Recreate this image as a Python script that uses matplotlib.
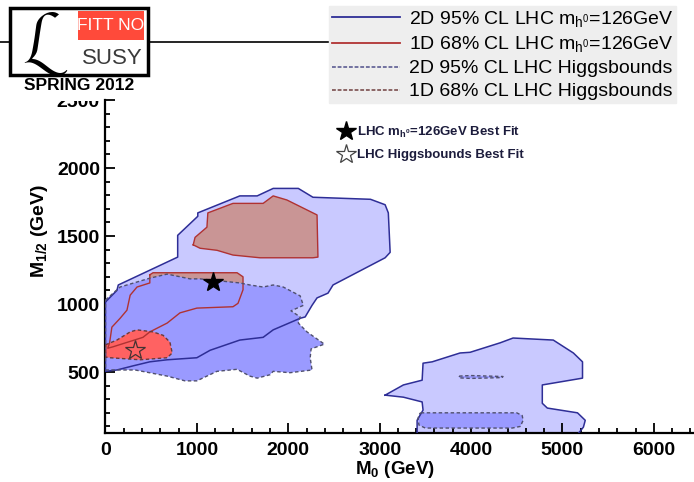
import numpy as np
import matplotlib
matplotlib.use('Agg')
import matplotlib.pyplot as plt
from matplotlib.patches import Rectangle
from matplotlib.lines import Line2D
from matplotlib.transforms import Bbox, TransformedBbox

plt.rcParams['font.family'] = ['Liberation Sans', 'DejaVu Sans']
plt.rcParams['mathtext.fontset'] = 'custom'
plt.rcParams['mathtext.rm'] = 'Liberation Sans'
plt.rcParams['mathtext.bf'] = 'Liberation Sans:bold'
plt.rcParams['mathtext.it'] = 'Liberation Sans:italic'

# contour vertices (M0, M1/2 in GeV)
# 2D 95% CL, LHC mh=126GeV : main region
m0_2d_mh = [0, 125, 140, 790, 790, 1010, 1010, 1470, 1660, 1835, 2110, 2270, 2900, 3060, 3095, 3115,
            3060, 2490, 2435, 2315, 2260, 2185, 2130, 1835, 1725, 1470, 1145, 1000, 675, 485, 300, 125, 0]
m12_2d_mh = [1015, 1100, 1140, 1345, 1505, 1645, 1670, 1795, 1795, 1850, 1850, 1785, 1770, 1730, 1670, 1380,
             1340, 1140, 1080, 1045, 990, 905, 895, 810, 755, 735, 660, 605, 590, 575, 545, 515, 505]
# 2D 95% CL, LHC mh=126GeV : high M0 island
m0_2d_mh_b = [3060, 3260, 3465, 3475, 3575, 3880, 3990, 4320, 4460, 4900, 5120, 5220, 5220, 4780, 4780,
              4835, 5165, 5250, 5230, 5165, 3410, 3410, 3475, 3465, 3260]
m12_2d_mh_b = [330, 405, 440, 565, 575, 640, 645, 715, 750, 735, 640, 575, 455, 405, 270,
               235, 200, 145, 95, 40, 40, 145, 220, 280, 315]

# 1D 68% CL, LHC mh=126GeV
m0_1d_mh_a = [960, 980, 1110, 1120, 1395, 1725, 1835, 1985, 2315, 2325, 2270, 1690, 1395, 1220, 1035]
m12_1d_mh_a = [1435, 1490, 1565, 1670, 1740, 1740, 1795, 1765, 1655, 1345, 1340, 1340, 1360, 1395, 1410]
m0_1d_mh_b = [485, 520, 1440, 1505, 1505, 1450, 1395, 1000, 815, 675, 485, 410, 80, 25, 45, 70, 160, 235, 270, 345, 485]
m12_1d_mh_b = [1215, 1230, 1230, 1200, 1105, 1005, 980, 970, 935, 860, 795, 755, 685, 675, 715, 830, 895, 955, 1065, 1125, 1155]

# 2D 95% CL, LHC Higgsbounds
m0_2d_hb = [0, 160, 485, 675, 925, 1035, 1470, 1580, 1725, 1835, 1945, 2130, 2165, 2030, 2130, 2110, 2205,
            2395, 2250, 2240, 2260, 2020, 1835, 1800, 1660, 1580, 1440, 1220, 1000, 870, 675, 325, 50, 0]
m12_2d_hb = [1030, 1125, 1190, 1220, 1185, 1185, 1155, 1140, 1125, 1140, 1125, 1060, 990, 950, 905, 860, 795,
             705, 670, 605, 515, 495, 505, 480, 455, 470, 520, 505, 435, 435, 470, 515, 515, 515]
m0_2d_hb_b = [3450, 4500, 4560, 4570, 4540, 4450, 3500, 3430, 3420, 3440]
m12_2d_hb_b = [200, 200, 180, 145, 100, 88, 88, 110, 160, 195]
m0_2d_hb_c = [3870, 4000, 4350, 4340, 4000, 3870]
m12_2d_hb_c = [470, 474, 467, 459, 453, 457]

# 1D 68% CL, LHC Higgsbounds
m0_1d_hb = [0, 125, 270, 345, 520, 630, 705, 730, 675, 380, 50, 0]
m12_1d_hb = [700, 735, 795, 810, 795, 770, 720, 640, 605, 590, 605, 610]

# best fit points
bf_mh = (1180, 1160)
bf_hb = (320, 660)

c_light = '#c9c9ff'
c_med = '#9a9aff'
c_brown = '#c99595'
c_red = '#ff6262'
c_bline = '#2e2e96'
c_rline = '#b03232'

fig = plt.figure(figsize=(6.94, 4.82), dpi=100)
ax = fig.add_axes([0.152, 0.1012, 0.848, 0.6913])

for xs, ys in [(m0_2d_mh, m12_2d_mh), (m0_2d_mh_b, m12_2d_mh_b)]:
    ax.fill(xs, ys, color=c_light, lw=0, zorder=1)
for xs, ys in [(m0_1d_mh_a, m12_1d_mh_a), (m0_1d_mh_b, m12_1d_mh_b)]:
    ax.fill(xs, ys, color=c_brown, lw=0, zorder=2)
for xs, ys in [(m0_2d_hb, m12_2d_hb), (m0_2d_hb_b, m12_2d_hb_b), (m0_2d_hb_c, m12_2d_hb_c)]:
    ax.fill(xs, ys, color=c_med, lw=0, zorder=3)
ax.fill(m0_1d_hb, m12_1d_hb, color=c_red, lw=0, zorder=4)

# outlines on top
for xs, ys in [(m0_2d_mh, m12_2d_mh), (m0_2d_mh_b, m12_2d_mh_b)]:
    ax.plot(xs + xs[:1], ys + ys[:1], color=c_bline, lw=1.1, zorder=6)
for xs, ys in [(m0_1d_mh_a, m12_1d_mh_a), (m0_1d_mh_b, m12_1d_mh_b)]:
    ax.plot(xs + xs[:1], ys + ys[:1], color=c_rline, lw=1.0, zorder=6)
for xs, ys in [(m0_2d_hb, m12_2d_hb), (m0_2d_hb_b, m12_2d_hb_b), (m0_2d_hb_c, m12_2d_hb_c)]:
    ax.plot(xs + xs[:1], ys + ys[:1], color='#50506e', lw=1.0, ls=(0, (2.5, 1.8)), zorder=7)
ax.plot(m0_1d_hb + m0_1d_hb[:1], m12_1d_hb + m12_1d_hb[:1], color='#6a3a3a', lw=1.0, ls=(0, (2.5, 1.8)), zorder=7)

ax.plot(*bf_mh, marker='*', ms=15, color='black', mec='black', zorder=8)
ax.plot(*bf_hb, marker='*', ms=15, mfc='none', mec='#443333', mew=0.9, zorder=8)

ax.set_xlim(0, 6440)
ax.set_ylim(50, 2500)
ax.set_xticks(np.arange(0, 6001, 1000))
ax.set_xticks(np.arange(0, 6441, 200), minor=True)
ax.set_yticks(np.arange(500, 2501, 500))
ax.set_yticks(np.arange(100, 2501, 100), minor=True)
ax.spines['top'].set_visible(False)
ax.spines['right'].set_visible(False)
ax.spines['left'].set_linewidth(1.6)
ax.spines['bottom'].set_linewidth(1.6)
ax.tick_params(which='both', direction='in', width=1.3)
ax.tick_params(which='major', length=7)
ax.tick_params(which='minor', length=3.5)
ax.tick_params(axis='x', pad=6)
ax.tick_params(axis='y', pad=4)
for lab in ax.get_xticklabels() + ax.get_yticklabels():
    lab.set_fontsize(14)
    lab.set_fontweight('bold')

# the 2500 label is cut off at its top by the header
top_lab = ax.yaxis.get_major_ticks()[-1].label1
top_lab.set_clip_box(TransformedBbox(Bbox([[0, 0], [1, 1 - 101 / 482]]), fig.transFigure))
top_lab.set_clip_on(True)

fig.text(395 / 694, 1 - 470 / 482, r'M$_\mathbf{0}$ (GeV)', fontsize=13.5, fontweight='bold', ha='center', va='center')
fig.text(39 / 694, 1 - 231 / 482, r'M$_\mathbf{1/2}$ (GeV)', fontsize=14, fontweight='bold',
         ha='center', va='center', rotation=90)

# best fit legend inside the frame
star_h = [Line2D([], [], ls='none', marker='*', ms=15, color='black'),
          Line2D([], [], ls='none', marker='*', ms=15, mfc='none', mec='#444444', mew=0.9)]
ax.legend(star_h, [r'LHC m$_{\mathbf{h^0}}$=126GeV Best Fit', 'LHC Higgsbounds Best Fit'],
          loc='upper left', bbox_to_anchor=(333 / 694, 1 - 118 / 482), bbox_transform=fig.transFigure,
          frameon=False, handlelength=1.0, handletextpad=0.35, labelspacing=0.7, borderpad=0,
          prop={'size': 9.5, 'weight': 'bold'}, labelcolor='#1c1c3c')

# header: line and logo
fig.lines.append(Line2D([0, 329 / 694], [1 - 42 / 482] * 2, transform=fig.transFigure, color='black', lw=1.2, zorder=1))
fig.patches.append(Rectangle((10 / 694, 1 - 75 / 482), 138 / 694, 67 / 482, transform=fig.transFigure,
                             facecolor='white', edgecolor='black', lw=2.5, zorder=2))
fig.patches.append(Rectangle((78 / 694, 1 - 40 / 482), 66 / 694, 29 / 482, transform=fig.transFigure,
                             facecolor='#ff4a3a', edgecolor='none', zorder=3))
fig.text(111 / 694, 1 - 26 / 482, 'FITT NO', color='white', fontsize=12.5, ha='center', va='center', zorder=4)
fig.text(112 / 694, 1 - 59 / 482, 'SUSY', color='#3a3a3a', fontsize=16, ha='center', va='center', zorder=4)
fig.text(46 / 694, 1 - 44 / 482, r'$\mathcal{L}$', fontsize=48, ha='center', va='center', zorder=4)
fig.text(79 / 694, 1 - 86 / 482, 'SPRING 2012', fontsize=12.5, fontweight='bold', ha='center', va='center', zorder=4)

# main legend
leg_h = [Line2D([], [], color=c_bline, lw=1.3),
         Line2D([], [], color=c_rline, lw=1.3),
         Line2D([], [], color='#50508a', lw=1.1, ls=(0, (2.5, 1.2))),
         Line2D([], [], color='#704040', lw=1.1, ls=(0, (2.5, 1.2)))]
leg_l = [r'2D 95% CL LHC m$_{\mathrm{h^0}}$=126GeV', r'1D 68% CL LHC m$_{\mathrm{h^0}}$=126GeV',
         '2D 95% CL LHC Higgsbounds', '1D 68% CL LHC Higgsbounds']
leg = fig.legend(leg_h, leg_l, loc='upper left', bbox_to_anchor=(329 / 694, 1 - 6 / 482),
                 handlelength=3.5, handletextpad=0.45, labelspacing=0.28, borderpad=0.15,
                 borderaxespad=0, fancybox=False, framealpha=1, facecolor='#eeeeee', edgecolor='#eeeeee',
                 prop={'size': 14})
leg.set_zorder(5)

plt.savefig('out.png', dpi=100)
plt.close()
